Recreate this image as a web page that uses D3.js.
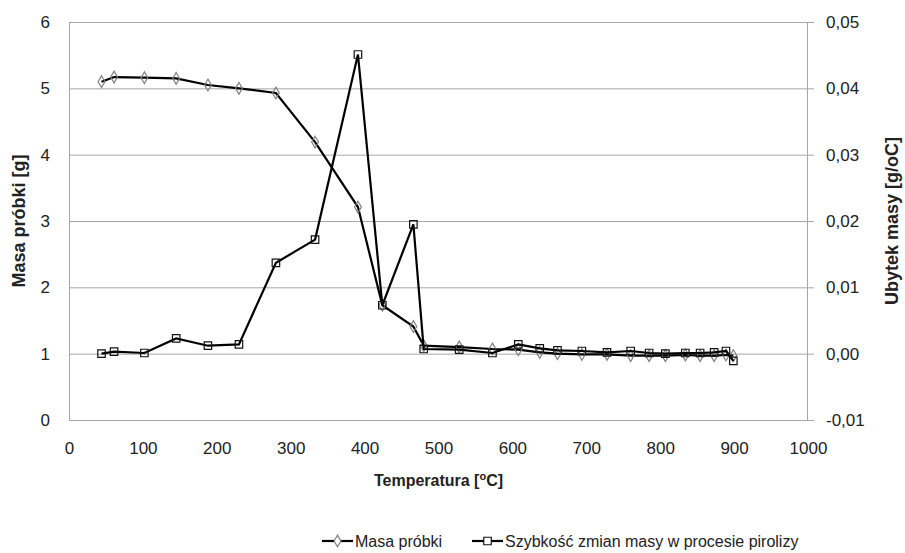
<!DOCTYPE html>
<html>
<head>
<meta charset="utf-8">
<script src="https://cdn.jsdelivr.net/npm/d3@7"></script>
<style>
  body { margin: 0; background: #fff; }
  text { font-family: "Liberation Sans", Arial, sans-serif; fill: #222; }
</style>
</head>
<body>
<div id="chart"></div>
<script>
// temperatura [oC]
let temps = [44, 61, 102, 145, 188, 230, 280, 333, 391, 424, 466, 480, 528, 573, 608,
             637, 661, 694, 728, 760, 785, 807, 834, 854, 873, 889, 899];
// masa probki [g]
let masa = [5.10, 5.17, 5.16, 5.15, 5.05, 5.00, 4.93, 4.19, 3.21, 1.73, 1.41, 1.12, 1.10, 1.07, 1.06,
            1.02, 1.00, 0.99, 0.99, 0.97, 0.97, 0.97, 0.98, 0.97, 0.97, 0.98, 0.97];
// ubytek masy [g/oC]
let ubytek = [0.0000, 0.0003, 0.0001, 0.0023, 0.0012, 0.0014, 0.0137, 0.0172, 0.0451, 0.0073, 0.0195, 0.0007, 0.0006, 0.0001, 0.0014,
              0.0008, 0.0005, 0.0004, 0.0002, 0.0004, 0.0001, 0.0000, 0.0001, 0.0001, 0.0002, 0.0004, -0.0011];

let xTicks = [0, 100, 200, 300, 400, 500, 600, 700, 800, 900, 1000];
let leftTicks = [0, 1, 2, 3, 4, 5, 6];
let rightTicks = [-0.01, 0, 0.01, 0.02, 0.03, 0.04, 0.05];
let seriesNames = ['Masa próbki', 'Szybkość zmian masy w procesie pirolizy'];

// configuration of svg/plot area
let config = { 'svg': {}, 'margin': {}, 'plot': {} };
config.svg.width = 905;
config.svg.height = 553;
config.margin.top = 22;
config.margin.left = 69;
config.margin.right = 97;
config.margin.bottom = 133;
config.plot.x = config.margin.left;
config.plot.y = config.margin.top;
config.plot.width = config.svg.width - config.margin.left - config.margin.right;
config.plot.height = config.svg.height - config.margin.top - config.margin.bottom;

function translate(x, y) {
  return 'translate(' + x + ',' + y + ')';
}

let svg = d3.select('#chart').append('svg')
  .attr('width', config.svg.width)
  .attr('height', config.svg.height);

let plot = svg.append('g').attr('transform', translate(config.plot.x, config.plot.y));

let x = d3.scaleLinear().domain([0, 1000]).range([0, config.plot.width]);
let yL = d3.scaleLinear().domain([0, 6]).range([config.plot.height, 0]);
let yR = d3.scaleLinear().domain([-0.01, 0.05]).range([config.plot.height, 0]);

let gridColor = '#a6a6a6';

// gridlines
plot.append('g')
  .selectAll('line')
  .data(leftTicks.filter(d => d > 0))
  .enter().append('line')
  .attr('x1', 0).attr('x2', config.plot.width)
  .attr('y1', d => yL(d) + 0.5).attr('y2', d => yL(d) + 0.5)
  .attr('stroke', gridColor);

// left axis
let leftAxis = plot.append('g')
  .call(d3.axisLeft(yL).tickValues(leftTicks).tickSize(0).tickPadding(19).tickFormat(d3.format('d')));
// right axis
let rightAxis = plot.append('g')
  .attr('transform', translate(config.plot.width, 0))
  .call(d3.axisRight(yR).tickValues(rightTicks).tickSize(6).tickPadding(12)
    .tickFormat(d => d3.format('.2f')(d).replace('.', ',').replace('−', '-')));
// bottom axis
let bottomAxis = plot.append('g')
  .attr('transform', translate(0, config.plot.height))
  .call(d3.axisBottom(x).tickValues(xTicks).tickSize(0).tickPadding(22).tickFormat(d3.format('d')));

[leftAxis, rightAxis, bottomAxis].forEach(function(a) {
  a.select('.domain').attr('stroke', gridColor);
  a.selectAll('.tick line').attr('stroke', gridColor);
  a.selectAll('text').style('font-size', '17px').attr('fill', '#222');
});
leftAxis.select('.domain').attr('d', 'M0.5,0V' + config.plot.height);
rightAxis.select('.domain').attr('d', 'M-0.5,0V' + config.plot.height);
bottomAxis.select('.domain').attr('d', 'M0,0.5H' + config.plot.width);

// axis titles
svg.append('text')
  .attr('transform', translate(25, config.plot.y + config.plot.height / 2) + ' rotate(-90)')
  .attr('text-anchor', 'middle')
  .style('font-size', '18px').style('font-weight', 'bold')
  .text('Masa próbki [g]');

svg.append('text')
  .attr('transform', translate(898, config.plot.y + config.plot.height / 2) + ' rotate(-90)')
  .attr('text-anchor', 'middle')
  .style('font-size', '18px').style('font-weight', 'bold')
  .text('Ubytek masy [g/oC]');

let xTitle = svg.append('text')
  .attr('x', config.plot.x + config.plot.width / 2)
  .attr('y', 486)
  .attr('text-anchor', 'middle')
  .style('font-size', '16px').style('font-weight', 'bold');
xTitle.append('tspan').text('Temperatura [');
xTitle.append('tspan').attr('dy', -6).style('font-size', '11px').text('o');
xTitle.append('tspan').attr('dy', 6).text('C]');

// data rows
let rows = temps.map((t, i) => ({ t: t, m: masa[i], u: ubytek[i] }));

let symDiamond = d3.symbol().type(d3.symbolDiamond).size(40);
let symSquare = d3.symbol().type(d3.symbolSquare).size(56);

// mass series
plot.append('path')
  .datum(rows)
  .attr('fill', 'none').attr('stroke', '#000').attr('stroke-width', 2.2)
  .attr('d', d3.line().x(d => x(d.t)).y(d => yL(d.m)));
plot.append('g').selectAll('path')
  .data(rows).enter().append('path')
  .attr('d', symDiamond)
  .attr('transform', d => translate(x(d.t), yL(d.m)))
  .attr('fill', 'none').attr('stroke', '#7f7f7f').attr('stroke-width', 1.2);

// rate series
plot.append('path')
  .datum(rows)
  .attr('fill', 'none').attr('stroke', '#000').attr('stroke-width', 2.2)
  .attr('d', d3.line().x(d => x(d.t)).y(d => yR(d.u)));
plot.append('g').selectAll('path')
  .data(rows).enter().append('path')
  .attr('d', symSquare)
  .attr('transform', d => translate(x(d.t), yR(d.u)))
  .attr('fill', 'none').attr('stroke', '#111').attr('stroke-width', 1.2);

// legend
let legend = svg.append('g').attr('transform', translate(0, 541));
let legendX = [322, 472];
let legendSym = [symDiamond, symSquare];
let legendStroke = ['#7f7f7f', '#111'];
seriesNames.forEach(function(name, i) {
  let g = legend.append('g').attr('transform', translate(legendX[i], 0));
  g.append('line').attr('x1', 0).attr('x2', 31).attr('y1', 0).attr('y2', 0)
    .attr('stroke', '#000').attr('stroke-width', 2.2);
  g.append('path').attr('d', legendSym[i]).attr('transform', translate(15.5, 0))
    .attr('fill', '#fff').attr('stroke', legendStroke[i]).attr('stroke-width', 1.2);
  g.append('text').attr('x', 33).attr('y', 6)
    .style('font-size', '16px').text(name);
});
</script>
</body>
</html>
